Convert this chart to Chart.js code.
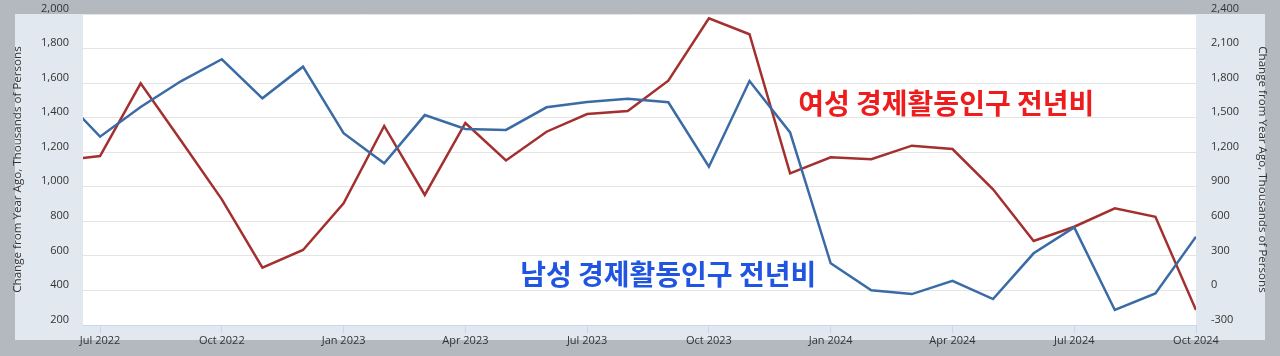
<!DOCTYPE html>
<html lang="ko">
<head>
    <meta charset="UTF-8">
    <title>경제활동인구 전년비</title>
    <script src="https://cdn.jsdelivr.net/npm/chart.js"></script>
    <style>
        html, body { margin: 0; padding: 0; background: #b4b8bf; }
        canvas { display: block; }
    </style>
</head>
<body>
<canvas id="laborChart" width="1280" height="356"></canvas>
<script>
    // months shown (first one is only partly visible at the left edge)
    const months = ['Jun 2022', 'Jul 2022', 'Aug 2022', 'Sep 2022', 'Oct 2022', 'Nov 2022', 'Dec 2022',
        'Jan 2023', 'Feb 2023', 'Mar 2023', 'Apr 2023', 'May 2023', 'Jun 2023', 'Jul 2023', 'Aug 2023',
        'Sep 2023', 'Oct 2023', 'Nov 2023', 'Dec 2023', 'Jan 2024', 'Feb 2024', 'Mar 2024', 'Apr 2024',
        'May 2024', 'Jun 2024', 'Jul 2024', 'Aug 2024', 'Sep 2024', 'Oct 2024'];

    // men, left axis (thousands)
    const menValues = [1537, 1290, 1462, 1612, 1738, 1512, 1695, 1310, 1136, 1415, 1335, 1329, 1460,
        1491, 1510, 1489, 1116, 1612, 1315, 557, 401, 379, 456, 350, 615, 765, 287, 383, 711];

    // women, right axis (thousands)
    const womenValues = [1124, 1167, 1798, 1297, 791, 197, 351, 757, 1428, 829, 1454, 1128, 1378,
        1532, 1558, 1821, 2363, 2224, 1017, 1156, 1139, 1257, 1228, 878, 429, 553, 713, 640, -170];

    const tickMonths = ['Jul 2022', 'Oct 2022', 'Jan 2023', 'Apr 2023', 'Jul 2023',
        'Oct 2023', 'Jan 2024', 'Apr 2024', 'Jul 2024', 'Oct 2024'];

    const menLabel = '남성 경제활동인구 전년비';
    const womenLabel = '여성 경제활동인구 전년비';
    const axisTitle = 'Change from Year Ago, Thousands of Persons';

    // x = months since Jul 2022
    const toPoints = vals => vals.map((v, i) => ({ x: i - 1, y: v }));
    const tickIdx = tickMonths.map(m => months.indexOf(m) - 1);

    const tickFont = { family: 'Open Sans', size: 11 };
    const titleFont = { family: 'Open Sans', size: 11.6, lineHeight: 1.2 };

    const frame = {
        id: 'frame',
        beforeDraw(chart) {
            const { ctx, chartArea: a } = chart;
            ctx.save();
            ctx.fillStyle = '#b4b8bf';
            ctx.fillRect(0, 0, chart.width, chart.height);
            ctx.fillStyle = '#e1e8ef';
            ctx.fillRect(a.left - 68, a.top, a.right - a.left + 68 + 69, a.bottom - a.top + 15);
            ctx.fillStyle = '#ffffff';
            ctx.fillRect(a.left, a.top, a.right - a.left, a.bottom - a.top);
            ctx.restore();
        },
        afterDatasetsDraw(chart) {
            const { ctx, scales } = chart;
            ctx.save();
            ctx.font = 'bold 28px "Noto Sans CJK KR"';
            ctx.textBaseline = 'middle';
            ctx.fillStyle = '#ee1c1c';
            ctx.fillText(womenLabel, scales.x.getPixelForValue(17.2), scales.y.getPixelForValue(1485));
            ctx.fillStyle = '#1f55e0';
            ctx.fillText(menLabel, scales.x.getPixelForValue(10.35), scales.y.getPixelForValue(492));
            ctx.restore();
        }
    };

    new Chart(document.getElementById('laborChart'), {
        type: 'line',
        data: {
            datasets: [{
                label: menLabel,
                data: toPoints(menValues),
                borderColor: '#3a6ba5',
                borderWidth: 2.5,
                pointRadius: 0,
                tension: 0,
                yAxisID: 'y'
            }, {
                label: womenLabel,
                data: toPoints(womenValues),
                borderColor: '#a3302e',
                borderWidth: 2.5,
                pointRadius: 0,
                tension: 0,
                yAxisID: 'y1'
            }]
        },
        options: {
            responsive: false,
            animation: false,
            layout: { padding: { left: 15, right: 15, top: 14, bottom: 6 } },
            plugins: {
                legend: { display: false },
                tooltip: { enabled: false }
            },
            scales: {
                x: {
                    type: 'linear',
                    min: -0.42,
                    max: 27,
                    afterFit: s => { s.height = 25; },
                    afterBuildTicks: s => { s.ticks = tickIdx.map(v => ({ value: v })); },
                    border: { color: '#ccd6eb' },
                    grid: { drawOnChartArea: false, drawTicks: true, tickLength: 8, color: '#ccd6eb' },
                    ticks: {
                        autoSkip: false,
                        maxRotation: 0,
                        padding: 1,
                        color: '#333333',
                        font: tickFont,
                        callback: v => months[v + 1]
                    }
                },
                y: {
                    position: 'left',
                    min: 200,
                    max: 2000,
                    afterFit: s => { s.width = 68; },
                    border: { display: false },
                    grid: { color: '#e4e4e4', drawTicks: true, tickLength: 14, tickColor: 'rgba(0,0,0,0)' },
                    ticks: { stepSize: 200, padding: 0, labelOffset: -5.5, color: '#333333', font: tickFont },
                    title: {
                        display: true,
                        text: axisTitle,
                        color: '#333333',
                        font: titleFont,
                        padding: { top: -3.8, bottom: 0 }
                    }
                },
                y1: {
                    position: 'right',
                    min: -300,
                    max: 2400,
                    afterFit: s => { s.width = 69; },
                    border: { display: false },
                    grid: { drawOnChartArea: false, drawTicks: true, tickLength: 15, tickColor: 'rgba(0,0,0,0)' },
                    ticks: { stepSize: 300, padding: 0, labelOffset: -5.5, color: '#333333', font: tickFont },
                    title: {
                        display: true,
                        text: axisTitle,
                        color: '#333333',
                        font: titleFont,
                        padding: { top: -3.8, bottom: 0 }
                    }
                }
            }
        },
        plugins: [frame]
    });
</script>
</body>
</html>
